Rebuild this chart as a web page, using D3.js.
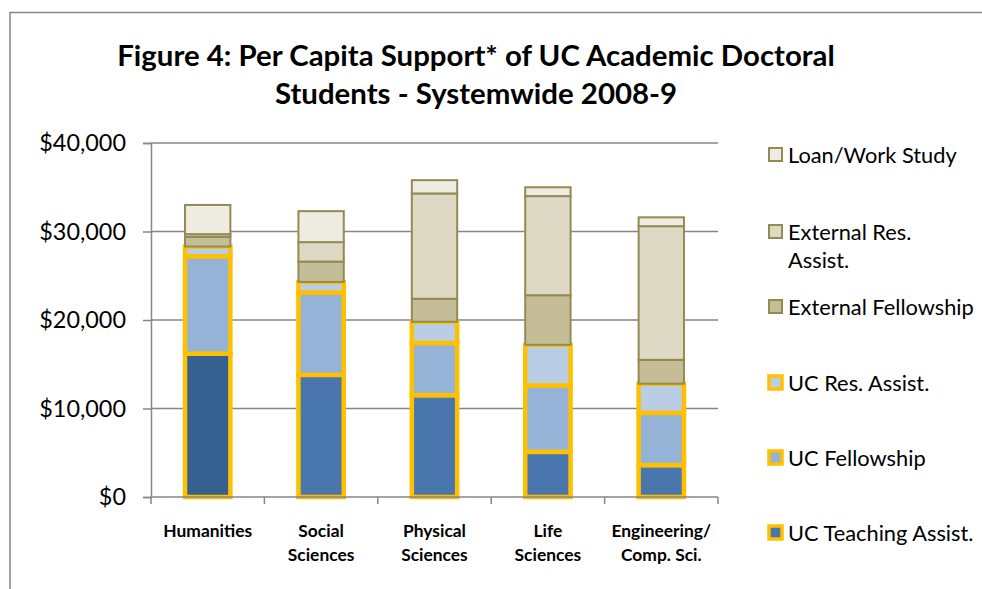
<!DOCTYPE html>
<html>
<head>
<meta charset="utf-8">
<script src="https://cdn.jsdelivr.net/npm/d3@7"></script>
<style>
  body { margin: 0; background: #fff; }
  svg { display: block; font-family: Lato, "Open Sans", sans-serif; }
</style>
</head>
<body>
<svg id="chart" width="982" height="589"></svg>
<script>
// categories and stacked series values (US$ per capita)
var categories = [["Humanities"], ["Social", "Sciences"], ["Physical", "Sciences"], ["Life", "Sciences"], ["Engineering/", "Comp. Sci."]]
var seriesNames = ["UC Teaching Assist.", "UC Fellowship", "UC Res. Assist.", "External Fellowship", "External Res. Assist.", "Loan/Work Study"]
var ucTeaching   = [16200, 13800, 11500, 5100, 3600]
var ucFellowship = [11000, 9300, 5900, 7500, 5900]
var ucResAssist  = [1100, 1200, 2400, 4600, 3300]
var extFellow    = [1100, 2300, 2600, 5600, 2700]
var extResAssist = [300, 2200, 11900, 11200, 15100]
var loanWork     = [3300, 3500, 1500, 1000, 1000]
var yTicks = [0, 10000, 20000, 30000, 40000]

var fills = ["#4876ad", "#95b3d7", "#b9cde5", "#c4bd97", "#ddd9c4", "#eeece1"]
var strokes = ["#ffc000", "#ffc000", "#ffc000", "#948a54", "#948a54", "#948a54"]
var strokeW = [4.5, 4.5, 4.5, 2, 2, 2]

var rows = categories.map(function(c, i){
  return {cat: i, s0: ucTeaching[i], s1: ucFellowship[i], s2: ucResAssist[i],
          s3: extFellow[i], s4: extResAssist[i], s5: loanWork[i]}
})

var svg = d3.select("#chart")
var grey = "#868686"

// chart area frame
svg.append("rect").attr("x", 10).attr("y", 12.5).attr("width", 1000).attr("height", 600)
   .attr("fill", "none").attr("stroke", grey).attr("stroke-width", 1.5)

var plotL = 151, plotR = 718, plotT = 143, plotB = 497

var x = d3.scaleBand().domain(d3.range(categories.length)).range([plotL, plotR]).paddingInner(0.6).paddingOuter(0.3)
var xb = d3.scaleBand().domain(d3.range(categories.length)).range([plotL, plotR])
var y = d3.scaleLinear().domain([0, 40000]).range([plotB, plotT])

// gridlines
svg.append("g").selectAll("line").data(yTicks.slice(1)).enter().append("line")
   .attr("x1", plotL).attr("x2", plotR).attr("y1", function(d){ return y(d) }).attr("y2", function(d){ return y(d) })
   .attr("stroke", grey).attr("stroke-width", 1.5)

// y axis
var yAxis = d3.axisLeft(y).tickValues(yTicks).tickSize(8).tickPadding(17)
   .tickFormat(function(d){ return "$" + d3.format(",")(d) })
var gy = svg.append("g").attr("transform", "translate(" + plotL + ",0)").call(yAxis)
gy.selectAll("path, line").attr("stroke", grey).attr("stroke-width", 1.5)
gy.selectAll("text").attr("font-size", 23.4).attr("fill", "#000").attr("font-family", "Lato, sans-serif")

// stacked bars
var stack = d3.stack().keys(["s0", "s1", "s2", "s3", "s4", "s5"])
var layers = stack(rows)

svg.append("g").selectAll("g").data(layers).enter().append("g")
   .each(function(layer, li){
     d3.select(this).selectAll("rect").data(layer).enter().append("rect")
       .attr("x", function(d){ return x(d.data.cat) })
       .attr("width", x.bandwidth())
       .attr("y", function(d){ return y(d[1]) })
       .attr("height", function(d){ return y(d[0]) - y(d[1]) })
       .attr("fill", function(d){ return (li == 0 && d.data.cat == 0) ? "#36608f" : fills[li] })
       .attr("stroke", strokes[li])
       .attr("stroke-width", strokeW[li])
   })

// x axis
svg.append("line").attr("x1", plotL).attr("x2", plotR).attr("y1", plotB).attr("y2", plotB)
   .attr("stroke", grey).attr("stroke-width", 1.5)
svg.append("g").selectAll("line").data(d3.range(categories.length + 1)).enter().append("line")
   .attr("x1", function(d){ return plotL + d * xb.bandwidth() }).attr("x2", function(d){ return plotL + d * xb.bandwidth() })
   .attr("y1", plotB).attr("y2", plotB + 7)
   .attr("stroke", grey).attr("stroke-width", 1.5)

var xl = svg.append("g").selectAll("text").data(categories).enter().append("text")
   .attr("text-anchor", "middle").attr("font-weight", "bold").attr("font-size", 17.4)
   .attr("x", function(d, i){ return xb(i) + xb.bandwidth() / 2 })
   .attr("y", 537)
xl.selectAll("tspan").data(function(d){ return d }).enter().append("tspan")
   .attr("x", function(){ return d3.select(this.parentNode).attr("x") })
   .attr("dy", function(d, i){ return i == 0 ? 0 : 24 })
   .text(function(d){ return d })

// title
var title = svg.append("text").attr("text-anchor", "middle").attr("font-weight", "bold").attr("font-size", 29.4)
   .attr("x", 476).attr("y", 66)
title.append("tspan").attr("x", 476).text("Figure 4: Per Capita Support* of UC Academic Doctoral")
title.append("tspan").attr("x", 476).attr("dy", 38).text("Students - Systemwide 2008-9")

// legend, top entry is the last series
var legendY = [[155], [232, 260], [307], [383], [458], [533]]
var legendLabels = [["Loan/Work Study"], ["External Res.", "Assist."], ["External Fellowship"], ["UC Res. Assist."], ["UC Fellowship"], ["UC Teaching Assist."]]
var lg = svg.append("g").selectAll("g").data(legendLabels).enter().append("g")
lg.append("rect")
  .attr("x", 769).attr("width", 13).attr("height", 13)
  .attr("y", function(d, i){ return legendY[i][0] - 7 })
  .attr("fill", function(d, i){ return fills[5 - i] })
  .attr("stroke", function(d, i){ return strokes[5 - i] })
  .attr("stroke-width", function(d, i){ return i >= 3 ? 3.5 : 2 })
lg.each(function(d, i){
  var g = d3.select(this)
  d.forEach(function(line, j){
    g.append("text").attr("x", 788).attr("y", legendY[i][j]).attr("dy", "0.35em")
     .attr("font-size", 21.8).attr("fill", "#000").text(line)
  })
})
</script>
</body>
</html>
